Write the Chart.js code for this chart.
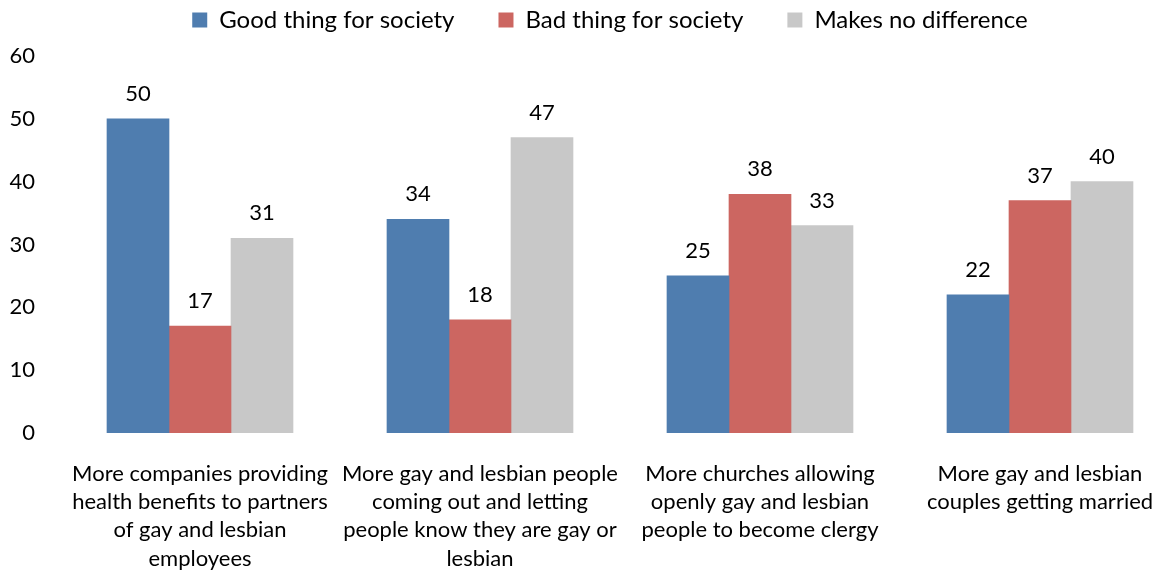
<!DOCTYPE html>
<html>
<head>
<meta charset="utf-8">
<script src="https://cdn.jsdelivr.net/npm/chart.js@4/dist/chart.umd.min.js"></script>
<style>
  html, body { margin: 0; padding: 0; background: #ffffff; }
  #wrap { width: 1160px; height: 571px; position: relative; }
</style>
</head>
<body>
<div id="wrap"><canvas id="chart"></canvas></div>
<script>
// Category labels, one entry per line
const categories = [
  ["More companies providing", "health benefits to partners", "of gay and lesbian", "employees"],
  ["More gay and lesbian people", "coming out and letting", "people know they are gay or", "lesbian"],
  ["More churches allowing", "openly gay and lesbian", "people to become clergy"],
  ["More gay and lesbian", "couples getting married"]
];

const seriesNames = ["Good thing for society", "Bad thing for society", "Makes no difference"];

const goodThing = [50, 34, 25, 22];
const badThing = [17, 18, 38, 37];
const noDifference = [31, 47, 33, 40];

const yTicks = [0, 10, 20, 30, 40, 50, 60];

const colors = ["#4F7DAF", "#CC6661", "#C8C8C8"];

const FONT = "Lato, 'Open Sans', sans-serif";

// category slots are placed on a numeric axis: slot i sits at x = i
const slots = categories.map((c, i) => i);
const toPoints = values => values.map((v, i) => ({ x: slots[i], y: v }));

// Writes each bar's value just above it
const valueLabels = {
  id: 'valueLabels',
  afterDatasetsDraw(chart) {
    const ctx = chart.ctx;
    ctx.save();
    ctx.font = "22px " + FONT;
    ctx.fillStyle = "#000000";
    ctx.textAlign = "center";
    ctx.textBaseline = "bottom";
    chart.data.datasets.forEach((ds, i) => {
      const meta = chart.getDatasetMeta(i);
      meta.data.forEach((bar, j) => {
        ctx.fillText(String(ds.data[j].y), bar.x, bar.y - 14);
      });
    });
    ctx.restore();
  }
};

new Chart(document.getElementById('chart'), {
  type: 'bar',
  data: {
    datasets: [
      { label: seriesNames[0], data: toPoints(goodThing), backgroundColor: colors[0] },
      { label: seriesNames[1], data: toPoints(badThing), backgroundColor: colors[1] },
      { label: seriesNames[2], data: toPoints(noDifference), backgroundColor: colors[2] }
    ]
  },
  options: {
    responsive: true,
    maintainAspectRatio: false,
    animation: false,
    layout: { padding: { top: -36, right: 0, left: 0, bottom: 0 } },
    datasets: { bar: { barThickness: 62 } },
    plugins: {
      tooltip: { enabled: false },
      legend: {
        position: 'top',
        fullSize: false,
        labels: {
          font: { family: FONT, size: 24 },
          color: "#000000",
          boxWidth: 15,
          boxHeight: 15,
          padding: 44
        }
      },
      // blank band between the legend and the plot
      title: {
        display: true,
        text: '',
        weight: 500,
        padding: 0,
        font: { size: 14, lineHeight: 1 }
      }
    },
    scales: {
      x: {
        type: 'linear',
        offset: false,
        // each slot is 280px wide; the plot runs past the last slot's right edge
        min: -0.5,
        max: 3.4286,
        grid: { display: false, drawTicks: false },
        border: { display: false },
        afterBuildTicks(scale) { scale.ticks = slots.map(v => ({ value: v })); },
        ticks: {
          font: { family: FONT, size: 22, lineHeight: 1.28 },
          color: "#000000",
          padding: 27,
          maxRotation: 0,
          minRotation: 0,
          autoSkip: false,
          callback: (value) => categories[value] || ''
        },
        afterFit(scale) {
          scale.height = 138;
          scale.paddingLeft = 0;
          scale.paddingRight = 0;
        }
      },
      y: {
        min: 0,
        max: 60,
        grid: { display: false, drawTicks: false },
        border: { display: false },
        afterBuildTicks(scale) { scale.ticks = yTicks.map(v => ({ value: v })); },
        ticks: {
          font: { family: FONT, size: 22 },
          color: "#000000",
          padding: 25
        },
        afterFit(scale) { scale.width = 60; }
      }
    }
  },
  plugins: [valueLabels]
});
</script>
</body>
</html>
